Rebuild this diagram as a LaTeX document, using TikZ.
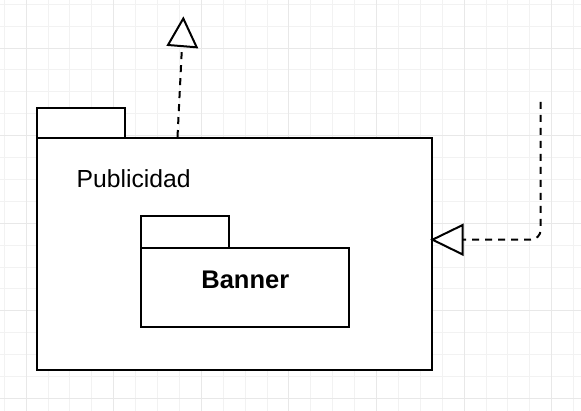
\documentclass[tikz,border=0pt]{standalone}
\usepackage{fontspec}
\setmainfont{Liberation Sans}
\definecolor{gridminor}{HTML}{F2F2F2}
\definecolor{gridmajor}{HTML}{E8E8E8}
\tikzset{
  pkg/.style={draw=black, line width=2pt, fill=white},
  dep/.style={draw=black, line width=2pt, dash pattern=on 7pt off 6pt},
  openhead/.style={draw=black, line width=2pt, fill=white, line join=miter},
}
\begin{document}
\begin{tikzpicture}[x=1pt,y=-1pt]
\useasboundingbox (0,0) rectangle (581,411);
\fill[white] (0,0) rectangle (581,411);
% grid
\foreach \i in {0,...,26} {
  \pgfmathsetmacro{\gx}{4.2+21.9*\i}
  \draw[gridminor, line width=1pt] (\gx,0) -- (\gx,411);
}
\foreach \i in {0,...,18} {
  \pgfmathsetmacro{\gy}{4.3+21.9*\i}
  \draw[gridminor, line width=1pt] (0,\gy) -- (581,\gy);
}
\foreach \i in {0,...,6} {
  \pgfmathsetmacro{\gx}{26.1+87.6*\i}
  \draw[gridmajor, line width=1pt] (\gx,0) -- (\gx,411);
}
\foreach \i in {0,...,4} {
  \pgfmathsetmacro{\gy}{48.1+87.6*\i}
  \draw[gridmajor, line width=1pt] (0,\gy) -- (581,\gy);
}
% outer package
\draw[pkg] (37,107.7) rectangle (125,138);
\draw[pkg] (37,138) rectangle (431.5,370);
\node[anchor=base west, inner sep=0pt, font=\fontsize{24.7}{29}\selectfont] (publi) at (76.5,187.3) {Publicidad};
% inner package
\draw[pkg] (141,216) rectangle (229,247.7);
\draw[pkg] (141,247.7) rectangle (349,326.7);
\node[anchor=base, inner sep=0pt, font=\fontsize{25.5}{30}\selectfont\bfseries] (banner) at (245.3,288.3) {Banner};
% coordinates
\coordinate (upstart) at (177.5,137);
\coordinate (upbase) at (182,46);
\coordinate (rstart) at (540.7,102);
\coordinate (rbase) at (462.7,239.7);
% up dependency
\draw[dep] (upstart) -- (upbase);
\draw[openhead] (168,45) -- (183.3,18.5) -- (196.7,47.3) -- cycle;
% right dependency
\draw[dep, rounded corners=10pt] (rstart) -- (540.7,239.7) -- (rbase);
\draw[openhead] (462.7,225) -- (432.5,239.7) -- (462.7,254.5) -- cycle;
\end{tikzpicture}
\end{document}
